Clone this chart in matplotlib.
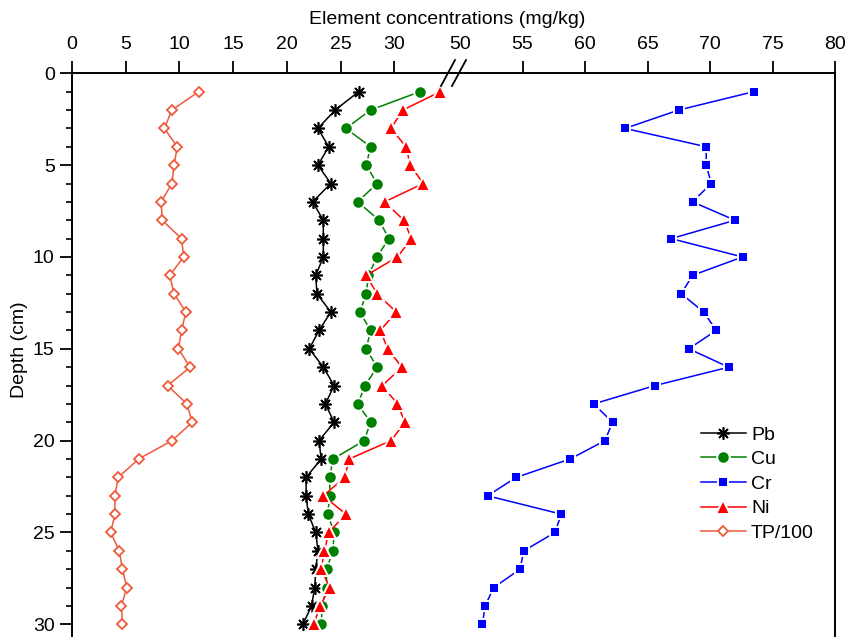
import matplotlib.pyplot as plt
from matplotlib.lines import Line2D
import numpy as np

plt.rcParams['font.family'] = ['Liberation Sans', 'DejaVu Sans']

# depth of each sample, cm
depth = np.arange(1, 31)

pb = [26.7, 24.5, 22.9, 23.9, 22.9, 24.1, 22.4, 23.4, 23.4, 23.4,
      22.7, 22.8, 24.1, 23.0, 22.1, 23.4, 24.4, 23.6, 24.4, 23.0,
      23.2, 21.8, 21.8, 22.0, 22.7, 22.9, 22.7, 22.6, 22.3, 21.5]
cu = [32.4, 27.8, 25.5, 27.8, 27.4, 28.4, 26.6, 28.6, 29.5, 28.4,
      27.6, 27.4, 26.8, 27.8, 27.4, 28.4, 27.3, 26.6, 27.8, 27.2,
      24.3, 24.0, 24.0, 23.8, 24.4, 24.3, 23.7, 23.7, 23.3, 23.2]
cr = [73.5, 67.5, 63.2, 69.7, 69.7, 70.1, 68.6, 72.0, 66.9, 72.6,
      68.6, 67.7, 69.5, 70.5, 68.3, 71.5, 65.6, 60.7, 62.2, 61.6,
      58.8, 54.5, 52.2, 58.1, 57.6, 55.1, 54.8, 52.7, 52.0, 51.8]
ni = [34.3, 30.8, 29.7, 31.1, 31.5, 32.7, 29.1, 30.9, 31.6, 30.3,
      27.4, 28.4, 30.2, 28.7, 29.4, 30.7, 28.9, 30.3, 31.0, 29.7,
      25.8, 25.4, 23.4, 25.5, 23.9, 23.5, 23.2, 24.0, 23.1, 22.5]
tp = [11.8, 9.3, 8.6, 9.8, 9.5, 9.3, 8.3, 8.4, 10.2, 10.4,
      9.1, 9.5, 10.6, 10.2, 9.9, 11.0, 8.9, 10.7, 11.2, 9.3,
      6.2, 4.3, 4.0, 4.0, 3.6, 4.4, 4.7, 5.1, 4.6, 4.7]

W, H = 848, 637
fs = 14
fig = plt.figure(figsize=(W / 100, H / 100), dpi=100)
top = 1 - 73.3 / H
axL = fig.add_axes([72 / W, 0, (460 - 72) / W, top])
axR = fig.add_axes([460 / W, 0, (835 - 460) / W, top], sharey=axL)

lw = 1.1
axL.plot(pb, depth, color='black', lw=lw, marker=(8, 2, 0), ms=9, mew=1.2, label='Pb')
axL.plot(cu, depth, color='#008000', lw=lw, marker='o', ms=9, mfc='#008000', mec='white', mew=1.4, label='Cu')
axR.plot(cr, depth, color='#0000FF', lw=lw, marker='s', ms=7.5, mfc='#0000FF', mec='white', mew=1.4, label='Cr')
axL.plot(ni, depth, color='#FF0000', lw=lw, marker='^', ms=10.5, mfc='#FF0000', mec='white', mew=1.4, label='Ni')
axL.plot(tp, depth, color='#EE5A3C', lw=lw, marker='D', ms=5.6, mfc='white', mec='#EE5A3C', mew=1.3, label='TP/100')

axL.set_xlim(0, (460 - 72) / 10.74)
axR.set_xlim(50, 80)
axL.set_ylim(30.69, 0)

for ax in (axL, axR):
    ax.spines['bottom'].set_visible(False)
    for s in ax.spines.values():
        s.set_linewidth(1.4)
    ax.xaxis.tick_top()
    ax.tick_params(axis='x', direction='out', length=8.5, width=1.3, labelsize=fs, pad=6)
axL.spines['right'].set_visible(False)
axR.spines['left'].set_visible(False)

axL.set_xticks(np.arange(0, 31, 5))
axR.set_xticks(np.arange(50, 81, 5))
axR.xaxis.get_major_ticks()[0].tick2line.set_visible(False)

axL.set_yticks(np.arange(0, 31, 5))
axL.set_yticks(np.arange(0, 31, 1), minor=True)
axL.tick_params(axis='y', which='major', direction='out', length=8.5, width=1.3, labelsize=fs, pad=4)
axL.tick_params(axis='y', which='minor', direction='out', length=4, width=1.2)
axR.tick_params(axis='y', which='both', left=False, right=False, labelleft=False)

# axis break marks
for x0, x1 in [(441, 455), (452, 466)]:
    fig.add_artist(Line2D([x0 / W, x1 / W], [1 - 86 / H, 1 - 60 / H], color='black', lw=1.3,
                          transform=fig.transFigure))

fig.text(447 / W, 1 - 19 / H, 'Element concentrations (mg/kg)', ha='center', va='center', fontsize=fs)
fig.text(20 / W, 1 - 350 / H, 'Depth (cm)', ha='center', va='center', rotation=90, fontsize=fs)

lines = axL.get_lines()
h = [lines[0], lines[1], axR.get_lines()[0], lines[2], lines[3]]
fig.legend(h, [l.get_label() for l in h], loc='upper left',
           bbox_to_anchor=(701 / W, 1 - 426 / H), bbox_transform=fig.transFigure,
           frameon=False, fontsize=fs, handlelength=2.3, handletextpad=0.27,
           labelspacing=0.36, borderpad=0, borderaxespad=0)

fig.savefig('out.png', dpi=100)
